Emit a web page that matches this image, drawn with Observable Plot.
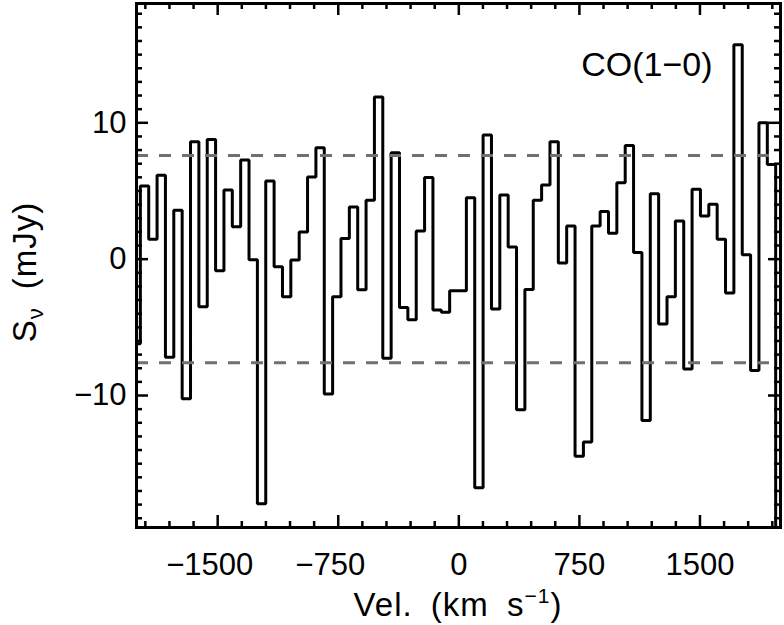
<!DOCTYPE html>
<html>
<head>
<meta charset="utf-8">
<script src="https://cdn.jsdelivr.net/npm/d3@7"></script>
<script src="https://cdn.jsdelivr.net/npm/@observablehq/plot@0.6"></script>
<style>
  html, body { margin: 0; padding: 0; background: #fff; }
  #chart { width: 784px; height: 625px; }
</style>
</head>
<body>
<div id="chart"></div>
<script>
// Channel velocities (bin centres, km/s)
const velocity = [
  -2007, -1955, -1903, -1851, -1799, -1747, -1695, -1643, -1591, -1539,
  -1487, -1435, -1383, -1331, -1279, -1227, -1175, -1123, -1071, -1019,
  -967, -915, -863, -811, -759, -707, -655, -603, -551, -499,
  -447, -395, -343, -291, -239, -187, -135, -83, -31, 21,
  73, 125, 177, 229, 281, 333, 385, 437, 489, 541,
  593, 645, 697, 749, 801, 853, 905, 957, 1009, 1061,
  1113, 1165, 1217, 1269, 1321, 1373, 1425, 1477, 1529, 1581,
  1633, 1685, 1737, 1789, 1841, 1893, 1945, 1997
];
// Flux density per channel (mJy)
const flux = [
  -6.2, 5.37, 1.46, 6.15, -7.2, 3.59, -10.24, 8.61, -3.49, 8.78,
  -0.85, 5.07, 2.37, 7.27, -0.05, -17.93, 5.73, -0.56, -2.76, -0.07,
  2.0, 6.02, 8.17, -9.88, -2.76, 1.51, 3.83, -2.24, 4.32, 11.9,
  -7.27, 7.8, -3.54, -4.44, 2.07, 5.98, -3.73, -3.9, -2.32, -2.32,
  4.51, -16.76, 9.1, -3.66, 4.71, 0.9, -11.05, -2.22, 4.32, 5.44,
  8.61, -0.29, 2.44, -14.46, -13.41, 2.44, 3.49, 1.9, 5.61, 8.34,
  0.49, -11.83, 4.8, -4.76, -2.76, 2.8, -8.05, 5.12, 3.17, 4.02,
  1.46, -2.49, 15.73, 0.32, -8.17, 10.0, 6.95, -21
];
// +/- noise level (mJy)
const noiseLevels = [7.6, -7.6];

const xMajorTicks = [-1500, -750, 0, 750, 1500];
const xMinorTicks = [-1950, -1800, -1650, -1350, -1200, -1050, -900, -600, -450, -300, -150,
                     150, 300, 450, 600, 900, 1050, 1200, 1350, 1650, 1800, 1950];
const yMajorTicks = [-10, 0, 10];
const yMinorTicks = [-19, -18, -17, -16, -15, -14, -13, -12, -11, -9, -8, -7, -6, -5, -4, -3, -2, -1,
                     1, 2, 3, 4, 5, 6, 7, 8, 9, 11, 12, 13, 14, 15, 16, 17, 18];

const lineLabel = "CO(1\u22120)";

const spectrum = velocity.map((v, i) => ({v, s: flux[i]}));

const W = 784, H = 625;
const mL = 136, mR = 4, mT = 3, mB = 98;
const innerW = W - mL - mR, innerH = H - mT - mB;
const majorLen = 12, minorLen = 6;
const tickW = 2.5;
const fmt = d3.format("d");
const FONT = "Liberation Sans, Arial, sans-serif";

const chart = Plot.plot({
  width: W, height: H,
  marginLeft: mL, marginRight: mR, marginTop: mT, marginBottom: mB,
  style: {fontFamily: FONT, fontSize: "31px", color: "black", background: "white"},
  x: {domain: [-2005, 2001], axis: null},
  y: {domain: [-19.68, 18.75], axis: null},
  marks: [
    Plot.line(spectrum, {x: "v", y: "s", curve: "step", clip: true, stroke: "black", strokeWidth: 3,
      strokeLinejoin: "miter", strokeLinecap: "butt"}),
    Plot.ruleY(noiseLevels, {stroke: "#707070", strokeWidth: 3, strokeDasharray: "12,11"}),
    // inward ticks, bottom
    Plot.ruleX(xMajorTicks, {x: d => d, insetTop: innerH - majorLen, strokeWidth: tickW}),
    Plot.ruleX(xMinorTicks, {x: d => d, insetTop: innerH - minorLen, strokeWidth: tickW}),
    // top
    Plot.ruleX(xMajorTicks, {x: d => d, insetBottom: innerH - majorLen, strokeWidth: tickW}),
    Plot.ruleX(xMinorTicks, {x: d => d, insetBottom: innerH - minorLen, strokeWidth: tickW}),
    // left
    Plot.ruleY(yMajorTicks, {y: d => d, insetRight: innerW - majorLen, strokeWidth: tickW}),
    Plot.ruleY(yMinorTicks, {y: d => d, insetRight: innerW - minorLen, strokeWidth: tickW}),
    // right
    Plot.ruleY(yMajorTicks, {y: d => d, insetLeft: innerW - majorLen, strokeWidth: tickW}),
    Plot.ruleY(yMinorTicks, {y: d => d, insetLeft: innerW - minorLen, strokeWidth: tickW}),
    // tick labels
    Plot.axisX(xMajorTicks.filter(d => d < 0), {anchor: "bottom", tickSize: 0, tickPadding: 25, label: null,
      fontSize: 31, dx: -8, tickFormat: fmt}),
    Plot.axisX(xMajorTicks.filter(d => d >= 0), {anchor: "bottom", tickSize: 0, tickPadding: 25, label: null,
      fontSize: 31, tickFormat: fmt}),
    Plot.axisY(yMajorTicks, {anchor: "left", tickSize: 0, tickPadding: 10, label: null, fontSize: 31, tickFormat: fmt}),
    Plot.text([lineLabel], {frameAnchor: "top-right", text: d => d, dx: -68, dy: 48, fontSize: 34,
      textAnchor: "end", lineAnchor: "top"}),
    Plot.frame({stroke: "black", strokeWidth: 3})
  ]
});

const svg = d3.select(chart);
// x axis title with superscript
const xt = svg.append("text")
  .attr("x", mL + innerW / 2).attr("y", 616)
  .attr("text-anchor", "middle")
  .attr("font-family", FONT)
  .attr("font-size", 33).attr("fill", "black")
  .attr("word-spacing", 8).attr("letter-spacing", 1);
xt.append("tspan").text("Vel. (km s");
xt.append("tspan").attr("dy", -13).attr("font-size", 21).text("\u22121");
xt.append("tspan").attr("dy", 13).text(")");

// y axis title with subscript
const yt = svg.append("text")
  .attr("transform", `translate(36,${mT + innerH / 2 + 7}) rotate(-90)`)
  .attr("text-anchor", "middle")
  .attr("font-family", FONT)
  .attr("font-size", 33).attr("fill", "black")
  .attr("word-spacing", 8).attr("letter-spacing", 1);
yt.append("tspan").text("S");
yt.append("tspan").attr("dy", 7).attr("font-size", 22).text("\u03bd");
yt.append("tspan").attr("dy", -7).text(" (mJy)");

document.getElementById("chart").appendChild(chart);
</script>
</body>
</html>
